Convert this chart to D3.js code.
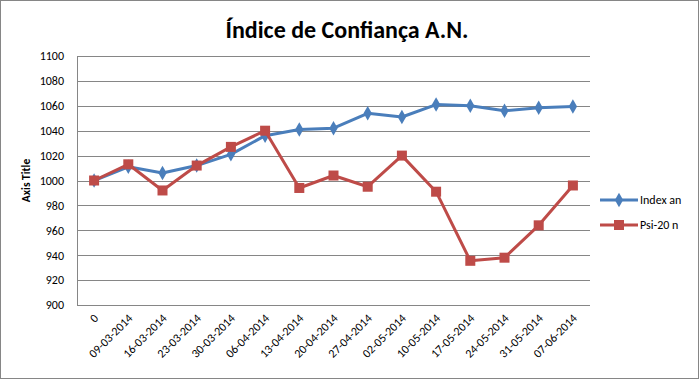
<!DOCTYPE html>
<html><head><meta charset="utf-8">
<script src="https://cdn.jsdelivr.net/npm/d3@7"></script>
<style>body{margin:0;background:#fff}svg{display:block}</style>
</head><body><svg id="c" width="699" height="379"></svg>
<script>
const categories = ["0","09-03-2014","16-03-2014","23-03-2014","30-03-2014","06-04-2014","13-04-2014","20-04-2014","27-04-2014","02-05-2014","10-05-2014","17-05-2014","24-05-2014","31-05-2014","07-06-2014"];
const indexAn = [1000,1011,1006,1012,1021,1036,1041,1042,1054,1051,1061,1060,1056,1058.5,1059.5];
const psi20n  = [1000,1013,992,1012,1027,1040,994,1004,995,1020,991,935.5,938,964,996];
const yTicks = [900,920,940,960,980,1000,1020,1040,1060,1080,1100];
const seriesNames = ["Index an","Psi-20 n"];
const colors = ["#4A7EBB","#BE4B48"];

const svg = d3.select("#c");
const font = "Calibri, Carlito, 'Liberation Sans', Arial, sans-serif";
svg.append("rect").attr("x",0.5).attr("y",0.5).attr("width",698).attr("height",378)
  .attr("fill","#fff").attr("stroke","#868686");

const L=77,R=590,T=56,B=305;
const x = d3.scaleBand().domain(categories).range([L,R]);
const y = d3.scaleLinear().domain([900,1100]).range([B,T]);

// grid
svg.append("g").selectAll("line").data(yTicks).join("line")
  .attr("x1",L).attr("x2",R).attr("y1",d=>Math.round(y(d))+0.5).attr("y2",d=>Math.round(y(d))+0.5)
  .attr("stroke","#868686").attr("stroke-width",1);
svg.append("line").attr("x1",L+0.5).attr("x2",L+0.5).attr("y1",T).attr("y2",B+0.5).attr("stroke","#868686");

// y axis labels
const ya = svg.append("g").attr("transform",`translate(${L-13},0)`)
  .call(d3.axisLeft(y).tickValues(yTicks).tickFormat(d3.format("d")).tickSize(0).tickPadding(0));
ya.select(".domain").remove();
ya.selectAll("text").attr("font-family",font).attr("font-size",12).attr("fill","#000");

// x axis labels
const xa = svg.append("g").attr("transform",`translate(0,${B})`)
  .call(d3.axisBottom(x).tickSize(0).tickPadding(0));
xa.select(".domain").remove();
xa.selectAll("text").attr("font-family",font).attr("font-size",12).attr("fill","#000")
  .attr("text-anchor","end").attr("dy",0)
  .attr("transform","translate(5,14) rotate(-45)");

// axis title
svg.append("text").attr("transform",`translate(30,${(T+B)/2}) rotate(-90)`)
  .attr("text-anchor","middle").attr("font-family",font).attr("font-size",11.5).attr("font-weight","bold")
  .text("Axis Title");

// title
svg.append("text").attr("x",347).attr("y",38).attr("text-anchor","middle")
  .attr("font-family",font).attr("font-size",24).attr("font-weight","bold").text("Índice de Confiança A.N.");

const cx = d => x(d)+x.bandwidth()/2;
const line = d3.line().x((d,i)=>cx(categories[i])).y(d=>y(d));
const data = [indexAn, psi20n];
const diamond = d3.symbol().type(d3.symbolDiamond).size(60);

data.forEach((vals,si)=>{
  const g = svg.append("g");
  g.append("path").attr("d",line(vals)).attr("fill","none").attr("stroke",colors[si]).attr("stroke-width",3).attr("stroke-linejoin","round");
  if(si===0){
    g.selectAll("path.m").data(vals).join("path").attr("class","m")
      .attr("d",diamond).attr("transform",(d,i)=>`translate(${cx(categories[i])},${y(d)})`).attr("fill",colors[si]);
  } else {
    g.selectAll("rect").data(vals).join("rect")
      .attr("x",(d,i)=>cx(categories[i])-5).attr("y",d=>y(d)-5).attr("width",10).attr("height",10).attr("fill",colors[si]);
  }
});

// legend
const lg = svg.append("g");
seriesNames.forEach((n,i)=>{
  const yy = 200 + i*25;
  lg.append("line").attr("x1",600).attr("x2",638).attr("y1",yy).attr("y2",yy).attr("stroke",colors[i]).attr("stroke-width",3);
  if(i===0) lg.append("path").attr("d",diamond).attr("transform",`translate(619,${yy})`).attr("fill",colors[i]);
  else lg.append("rect").attr("x",614).attr("y",yy-5).attr("width",10).attr("height",10).attr("fill",colors[i]);
  lg.append("text").attr("x",640).attr("y",yy+4).attr("font-family",font).attr("font-size",12).text(n);
});
</script></body></html>
